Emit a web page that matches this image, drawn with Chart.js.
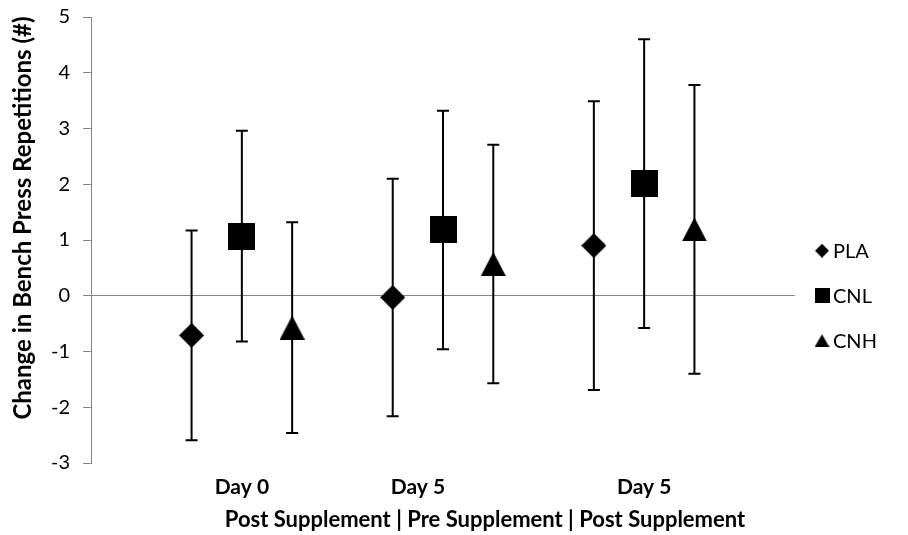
<!DOCTYPE html>
<html>
<head>
<meta charset="utf-8">
<script src="https://cdn.jsdelivr.net/npm/chart.js@4.4.1/dist/chart.umd.min.js"></script>
<style>
  html, body { margin: 0; padding: 0; background: #ffffff; }
  canvas { display: block; }
</style>
</head>
<body>
<canvas id="chart" width="908" height="535"></canvas>
<script>
// ---- data ----
const groupLabels = ['Day 0', 'Day 5', 'Day 5'];
const phaseLabel = 'Post Supplement | Pre Supplement | Post Supplement';
const yAxisTitle = 'Change in Bench Press Repetitions (#)';
const seriesNames = ['PLA', 'CNL', 'CNH'];
const plaMean = [-0.71, -0.03, 0.90];
const cnlMean = [1.07, 1.18, 2.01];
const cnhMean = [-0.57, 0.57, 1.19];
const plaError = [1.88, 2.13, 2.59];
const cnlError = [1.89, 2.14, 2.59];
const cnhError = [1.89, 2.14, 2.59];
const yTickValues = [-3, -2, -1, 0, 1, 2, 3, 4, 5];

const FONT = 'Lato, "Open Sans", sans-serif';
const AXIS_GREY = '#868686';

// Each group spans 4 units on the x axis; the three series sit side by side.
function slotX(groupIndex, seriesIndex) {
  return 3 + 4 * groupIndex + (seriesIndex - 1);
}

// Marker images (filled black shapes), sized in pixels.
function makeMarker(shape, w, h) {
  const c = document.createElement('canvas');
  c.width = w; c.height = h;
  const g = c.getContext('2d');
  g.fillStyle = '#000000';
  g.beginPath();
  if (shape === 'diamond') {
    g.moveTo(w / 2, 0); g.lineTo(w, h / 2); g.lineTo(w / 2, h); g.lineTo(0, h / 2);
  } else if (shape === 'square') {
    g.rect(0, 0, w, h);
  } else {
    g.moveTo(w / 2, 0); g.lineTo(w, h); g.lineTo(0, h);
  }
  g.closePath();
  g.fill();
  return c;
}

const seriesMeans = [plaMean, cnlMean, cnhMean];
const seriesErrors = [plaError, cnlError, cnhError];
const chartMarkers = [makeMarker('diamond', 25, 25), makeMarker('square', 27, 27), makeMarker('triangle', 25, 24)];
const legendMarkers = [makeMarker('diamond', 14, 14), makeMarker('square', 15, 15), makeMarker('triangle', 15, 13)];

const datasets = seriesNames.map((name, s) => ({
  label: name,
  data: seriesMeans[s].map((v, g) => ({ x: slotX(g, s), y: v })),
  errors: seriesErrors[s],
  showLine: false,
  pointStyle: chartMarkers[s],
  pointRadius: 13,
  pointHoverRadius: 13,
  backgroundColor: '#000000',
  borderColor: '#000000'
}));

// Vertical error bars with end caps, drawn from each point's mean +/- error.
const errorBars = {
  id: 'errorBars',
  afterDatasetsDraw(chart) {
    const ctx = chart.ctx;
    const y = chart.scales.y;
    ctx.save();
    ctx.strokeStyle = '#000000';
    ctx.lineWidth = 2;
    chart.data.datasets.forEach((ds, di) => {
      const meta = chart.getDatasetMeta(di);
      ds.data.forEach((pt, i) => {
        const px = meta.data[i].x;
        const top = y.getPixelForValue(pt.y + ds.errors[i]);
        const bottom = y.getPixelForValue(pt.y - ds.errors[i]);
        ctx.beginPath();
        ctx.moveTo(px, top); ctx.lineTo(px, bottom);
        ctx.moveTo(px - 6, top); ctx.lineTo(px + 6, top);
        ctx.moveTo(px - 6, bottom); ctx.lineTo(px + 6, bottom);
        ctx.stroke();
      });
    });
    ctx.restore();
  }
};

// Axis titles, group labels and the legend at the right.
const annotations = {
  id: 'annotations',
  afterDraw(chart) {
    const ctx = chart.ctx;
    const xs = chart.scales.x;
    const area = chart.chartArea;
    ctx.save();
    ctx.fillStyle = '#000000';

    // y axis title
    ctx.save();
    ctx.translate(23, 218);
    ctx.rotate(-Math.PI / 2);
    ctx.font = 'bold 24px ' + FONT;
    ctx.textAlign = 'center';
    ctx.textBaseline = 'middle';
    ctx.fillText(yAxisTitle, 0, 0);
    ctx.restore();

    // group labels
    ctx.textAlign = 'center';
    ctx.textBaseline = 'middle';
    ctx.font = 'bold 21px ' + FONT;
    const labelShift = [0, -25, 0];
    groupLabels.forEach((lab, g) => {
      ctx.fillText(lab, xs.getPixelForValue(slotX(g, 1)) + labelShift[g], area.bottom + 24);
    });
    ctx.font = 'bold 22px ' + FONT;
    ctx.fillText(phaseLabel, 485, area.bottom + 57);

    // legend
    ctx.font = '20px ' + FONT;
    ctx.textAlign = 'left';
    const zeroY = chart.scales.y.getPixelForValue(0);
    chart.data.datasets.forEach((ds, s) => {
      const cy = zeroY + (s - 1) * 45;
      const img = legendMarkers[s];
      ctx.drawImage(img, area.right + 27 - img.width / 2, cy - img.height / 2);
      ctx.fillText(ds.label, area.right + 38, cy + 1);
    });
    ctx.restore();
  }
};

new Chart(document.getElementById('chart'), {
  type: 'scatter',
  data: { datasets },
  plugins: [errorBars, annotations],
  options: {
    responsive: false,
    devicePixelRatio: 1,
    animation: false,
    events: [],
    layout: { padding: { top: 17, right: 113, bottom: 72, left: 0 } },
    plugins: {
      legend: { display: false },
      tooltip: { enabled: false }
    },
    scales: {
      x: {
        type: 'linear',
        min: 0,
        max: 14,
        display: false
      },
      y: {
        type: 'linear',
        min: -3,
        max: 5,
        afterBuildTicks(scale) {
          scale.ticks = yTickValues.map(v => ({ value: v }));
        },
        afterFit(scale) {
          scale.width = 91;
          scale.paddingTop = 0;
          scale.paddingBottom = 0;
        },
        border: { display: true, color: AXIS_GREY, width: 1 },
        grid: {
          drawOnChartArea: true,
          drawTicks: true,
          tickLength: 8,
          tickColor: AXIS_GREY,
          lineWidth: 1,
          color: (c) => (c.tick && c.tick.value === 0 ? AXIS_GREY : 'rgba(0,0,0,0)')
        },
        ticks: {
          color: '#000000',
          padding: 13,
          font: { family: FONT, size: 20 },
          callback: (v) => String(v)
        }
      }
    }
  }
});
</script>
</body>
</html>
